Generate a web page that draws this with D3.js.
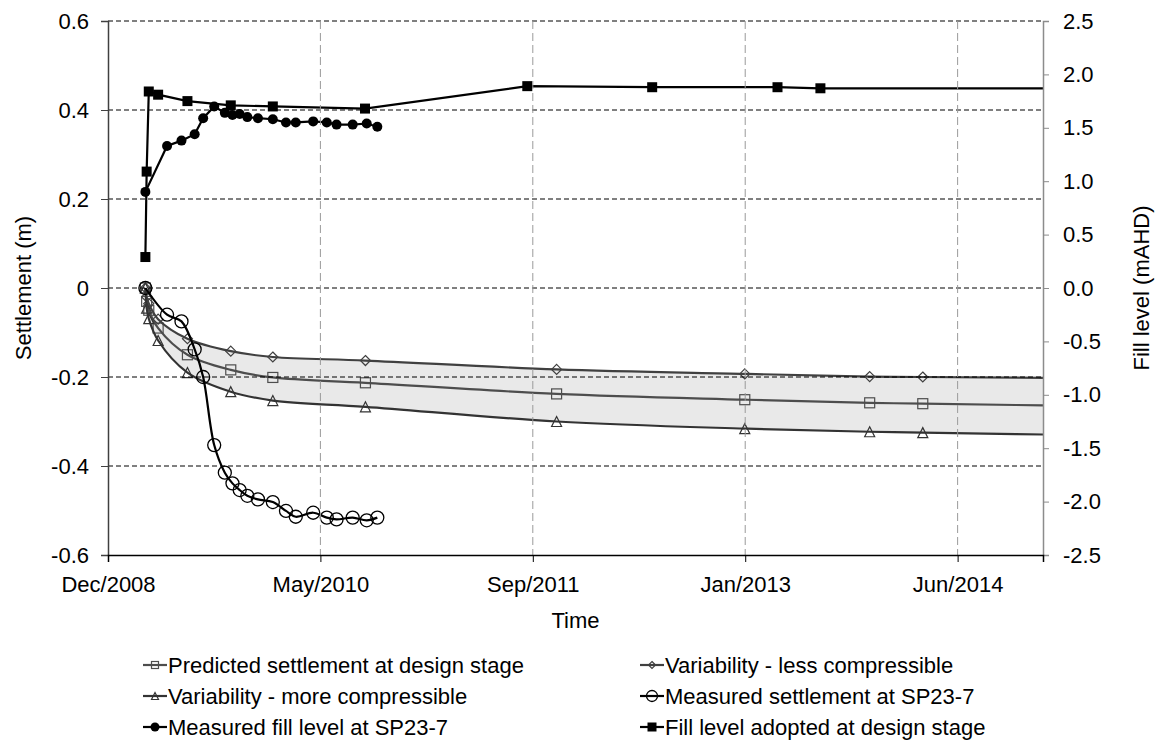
<!DOCTYPE html>
<html><head><meta charset="utf-8">
<script src="https://cdn.jsdelivr.net/npm/d3@7"></script>
<style>
body{margin:0;background:#fff;}
text{font-family:"Liberation Sans",Arial,sans-serif;}
</style></head>
<body><svg id="c" width="1162" height="749"></svg>
<script>
// ---------- data ----------
const xDomain = ["2008-12-18", "2014-12-28"];
const xTickDates = ["2008-12-18", "2010-05-02", "2011-09-14", "2013-01-26", "2014-06-10"];
const leftTicks = [-0.6, -0.4, -0.2, 0, 0.2, 0.4, 0.6];
const rightTicks = [-2.5, -2.0, -1.5, -1.0, -0.5, 0, 0.5, 1.0, 1.5, 2.0, 2.5];

const predDates = ["2009-03-16", "2009-03-19", "2009-03-24", "2009-04-15", "2009-06-23", "2009-10-03", "2010-01-10", "2010-08-16", "2011-11-09", "2013-01-25", "2013-11-15", "2014-03-20", "2015-06-30"];
const predicted = [0, -0.030, -0.050, -0.090, -0.150, -0.184, -0.201, -0.213, -0.238, -0.251, -0.258, -0.260, -0.266];
const lessComp = [0, -0.020, -0.035, -0.070, -0.114, -0.142, -0.155, -0.163, -0.183, -0.193, -0.199, -0.200, -0.203];
const moreComp = [0, -0.045, -0.069, -0.118, -0.190, -0.233, -0.253, -0.267, -0.300, -0.316, -0.323, -0.325, -0.332];

const measDates = ["2009-03-16", "2009-05-06", "2009-06-09", "2009-07-10", "2009-07-30", "2009-08-25", "2009-09-19", "2009-10-07", "2009-10-24", "2009-11-11", "2009-12-06", "2010-01-10", "2010-02-10", "2010-03-05", "2010-04-15", "2010-05-17", "2010-06-09", "2010-07-17", "2010-08-19", "2010-09-13"];
const measuredSettlement = [0, -0.060, -0.075, -0.138, -0.200, -0.353, -0.415, -0.439, -0.454, -0.467, -0.475, -0.481, -0.501, -0.514, -0.505, -0.516, -0.520, -0.516, -0.522, -0.516];
const measuredFill = [0.90, 1.33, 1.38, 1.44, 1.59, 1.70, 1.64, 1.62, 1.63, 1.60, 1.59, 1.58, 1.55, 1.55, 1.56, 1.55, 1.53, 1.53, 1.54, 1.51];

const designFillDates = ["2009-03-16", "2009-03-19", "2009-03-24", "2009-04-15", "2009-06-23", "2009-10-03", "2010-01-10", "2010-08-15", "2011-09-01", "2012-06-21", "2013-04-12", "2013-07-22", "2015-06-30"];
const designFill = [0.29, 1.09, 1.84, 1.81, 1.75, 1.71, 1.70, 1.68, 1.89, 1.88, 1.88, 1.87, 1.87];

const seriesNames = ["Predicted settlement at design stage", "Variability - less compressible", "Variability - more compressible", "Measured settlement at SP23-7", "Measured fill level at SP23-7", "Fill level adopted at design stage"];

// ---------- layout ----------
const P = {l: 108, r: 1043, t: 21, b: 555};
const parse = d3.utcParse("%Y-%m-%d");
const svg = d3.select("#c");
const x = d3.scaleUtc().domain(xDomain.map(parse)).range([P.l, P.r]);
const yL = d3.scaleLinear().domain([-0.6, 0.6]).range([P.b, P.t]);
const yR = d3.scaleLinear().domain([-2.5, 2.5]).range([P.b, P.t]);
const FS = 22;

svg.append("defs").append("clipPath").attr("id", "clip")
  .append("rect").attr("x", P.l).attr("y", P.t - 8).attr("width", P.r - P.l).attr("height", P.b - P.t + 8);

const zip = (ds, vs) => ds.map((d, i) => ({date: parse(d), v: vs[i]}));
const pred = zip(predDates, predicted), less = zip(predDates, lessComp), more = zip(predDates, moreComp);
const band = predDates.map((d, i) => ({date: parse(d), hi: lessComp[i], lo: moreComp[i]}));
const mSet = zip(measDates, measuredSettlement), mFill = zip(measDates, measuredFill);
const dFill = zip(designFillDates, designFill);
const inDomain = d => d.date <= x.domain()[1];

const smooth = d3.curveCatmullRom.alpha(0.5);
const plot = svg.append("g").attr("clip-path", "url(#clip)");

// band
plot.append("path").datum(band)
  .attr("d", d3.area().x(d => x(d.date)).y0(d => yL(d.lo)).y1(d => yL(d.hi)).curve(smooth))
  .attr("fill", "#e9e9e9");

// gridlines
const grid = svg.append("g");
grid.selectAll(".hg").data(leftTicks.filter(t => t > -0.6)).join("line")
  .attr("x1", P.l).attr("x2", P.r).attr("y1", d => yL(d)).attr("y2", d => yL(d))
  .attr("stroke", "#000").attr("stroke-width", 1).attr("stroke-dasharray", "5,3");
grid.selectAll(".vg").data(xTickDates.slice(1)).join("line")
  .attr("x1", d => x(parse(d))).attr("x2", d => x(parse(d))).attr("y1", P.t).attr("y2", P.b)
  .attr("stroke", "#9a9a9a").attr("stroke-width", 1).attr("stroke-dasharray", "8,4");

// axes
const axL = d3.axisLeft(yL).tickValues(leftTicks).tickSize(7).tickPadding(12)
  .tickFormat(d => d === 0 ? "0" : d.toFixed(1));
const gL = svg.append("g").attr("transform", `translate(${P.l},0)`).call(axL);
gL.select(".domain").attr("stroke", "#404040").attr("stroke-width", 1.5);
gL.selectAll(".tick line").attr("stroke", "#404040");
const axR = d3.axisRight(yR).tickValues(rightTicks).tickSize(6).tickPadding(14)
  .tickFormat(d => d.toFixed(1));
const gR = svg.append("g").attr("transform", `translate(${P.r},0)`).call(axR);
gR.select(".domain").attr("stroke", "#8c8c8c").attr("stroke-width", 1.5);
gR.selectAll(".tick line").attr("stroke", "#8c8c8c");
const axB = d3.axisBottom(x).tickValues(xTickDates.map(parse)).tickSize(7).tickPadding(14)
  .tickFormat(d3.utcFormat("%b/%Y"));
const gB = svg.append("g").attr("transform", `translate(0,${P.b})`).call(axB);
gB.select(".domain").attr("stroke", "#000").attr("stroke-width", 1.5);
[gL, gR, gB].forEach(g => g.selectAll("text").attr("font-size", FS).attr("fill", "#000")
  .attr("font-family", '"Liberation Sans",Arial,sans-serif'));

svg.append("text").attr("transform", `translate(31,${(P.t + P.b) / 2}) rotate(-90)`)
  .attr("text-anchor", "middle").attr("font-size", FS).text("Settlement (m)");
svg.append("text").attr("transform", `translate(1149,${(P.t + P.b) / 2}) rotate(-90)`)
  .attr("text-anchor", "middle").attr("font-size", FS).text("Fill level (mAHD)");
svg.append("text").attr("x", (P.l + P.r) / 2).attr("y", 628)
  .attr("text-anchor", "middle").attr("font-size", FS).text("Time");

// markers
function marker(g, type, cx, cy, color, s) {
  if (type === "square") g.append("rect").attr("x", cx - s / 2).attr("y", cy - s / 2).attr("width", s).attr("height", s)
    .attr("fill", "none").attr("stroke", color).attr("stroke-width", 1.2);
  else if (type === "diamond") g.append("path").attr("d", `M${cx},${cy - s / 2}L${cx + s / 2},${cy}L${cx},${cy + s / 2}L${cx - s / 2},${cy}Z`)
    .attr("fill", "none").attr("stroke", color).attr("stroke-width", 1.2);
  else if (type === "triangle") g.append("path").attr("d", `M${cx},${cy - s / 2}L${cx + s / 2},${cy + s / 2}L${cx - s / 2},${cy + s / 2}Z`)
    .attr("fill", "none").attr("stroke", color).attr("stroke-width", 1.2);
  else if (type === "ocircle") g.append("circle").attr("cx", cx).attr("cy", cy).attr("r", s / 2)
    .attr("fill", "none").attr("stroke", color).attr("stroke-width", 1.3);
  else if (type === "fcircle") g.append("circle").attr("cx", cx).attr("cy", cy).attr("r", s / 2).attr("fill", color);
  else if (type === "fsquare") g.append("rect").attr("x", cx - s / 2).attr("y", cy - s / 2).attr("width", s).attr("height", s).attr("fill", color);
}

const series = [
  {name: seriesNames[0], data: pred, y: yL, color: "#4d4d4d", curve: smooth, m: "square", s: 10},
  {name: seriesNames[1], data: less, y: yL, color: "#404040", curve: smooth, m: "diamond", s: 10},
  {name: seriesNames[2], data: more, y: yL, color: "#333333", curve: smooth, m: "triangle", s: 10},
  {name: seriesNames[3], data: mSet, y: yL, color: "#000000", curve: smooth, m: "ocircle", s: 13},
  {name: seriesNames[4], data: mFill, y: yR, color: "#000000", curve: d3.curveLinear, m: "fcircle", s: 10},
  {name: seriesNames[5], data: dFill, y: yR, color: "#000000", curve: d3.curveLinear, m: "fsquare", s: 10}
];

series.forEach(sr => {
  plot.append("path").datum(sr.data)
    .attr("d", d3.line().x(d => x(d.date)).y(d => sr.y(d.v)).curve(sr.curve))
    .attr("fill", "none").attr("stroke", sr.color).attr("stroke-width", 2.2);
  const g = plot.append("g");
  sr.data.filter(inDomain).forEach(d => marker(g, sr.m, x(d.date), sr.y(d.v), sr.color, sr.s));
});

// legend
const legPos = [[143, 665], [640, 665], [143, 696], [640, 696], [143, 727], [640, 727]];
const leg = svg.append("g");
series.forEach((sr, k) => {
  const [lx, ly] = legPos[k];
  leg.append("line").attr("x1", lx).attr("x2", lx + 24).attr("y1", ly).attr("y2", ly)
    .attr("stroke", sr.color).attr("stroke-width", 2.2);
  const ms = sr.m === "ocircle" ? 11 : sr.m === "fcircle" ? 9 : sr.m === "fsquare" ? 9 : 7;
  marker(leg, sr.m, lx + 12, ly, sr.color, ms);
  leg.append("text").attr("x", lx + 25).attr("y", ly).attr("dy", "0.35em")
    .attr("font-size", FS).text(sr.name);
});
</script></body></html>
